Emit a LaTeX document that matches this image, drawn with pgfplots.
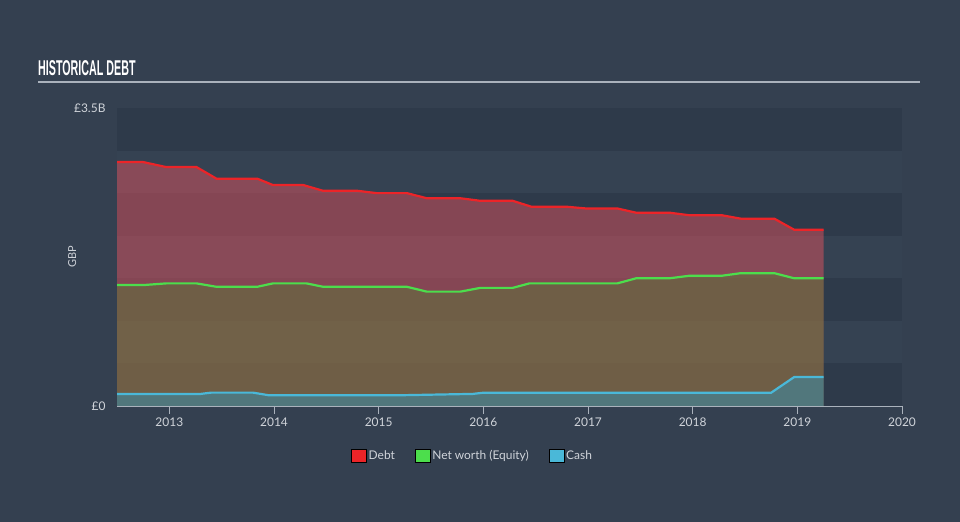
\documentclass[border=0pt]{standalone}
\usepackage{pgfplots}
\pgfplotsset{compat=1.18}
\usepackage{fontspec}
\setmainfont{Lato}
\newfontfamily\titlefont{Liberation Sans}
\definecolor{bgc}{RGB}{52,64,80}
\definecolor{banddark}{RGB}{46,58,74}
\definecolor{bandlight}{RGB}{53,66,82}
\definecolor{debtc}{RGB}{236,36,40}
\definecolor{eqc}{RGB}{76,222,76}
\definecolor{cashc}{RGB}{74,184,216}
\definecolor{debtfill}{RGB}{221,82,94}
\definecolor{eqfill}{RGB}{70,140,45}
\definecolor{cashfill}{RGB}{40,155,200}
\definecolor{txt}{RGB}{208,212,218}
\definecolor{rulec}{RGB}{170,178,188}

\begin{document}
\begin{tikzpicture}[x=1bp,y=1bp]
\fill[bgc] (0,0) rectangle (960,522);

\begin{axis}[
  scale only axis,
  width=785bp, height=298bp,
  at={(117bp,116bp)}, anchor=south west,
  xmin=2012.5, xmax=2020, ymin=0, ymax=3.5,
  axis x line*=bottom, axis y line*=left,
  y axis line style={draw=none},
  x axis line style={draw=rulec, line width=1.2bp},
  xtick={2013,2014,2015,2016,2017,2018,2019,2020},
  xticklabels={2013,2014,2015,2016,2017,2018,2019,2020},
  xtick style={draw=rulec, line width=1bp},
  xtick align=outside,
  major tick length=8bp,
  ytick={0,3.5},
  yticklabels={£0,£3.5B},
  ytick style={draw=none},
  tick label style={font=\fontsize{12}{13}\selectfont, text=txt},
  yticklabel style={xshift=-8bp},
  ylabel={GBP},
  ylabel style={at={(axis description cs:-0.057,0.5)}, anchor=center, font=\fontsize{11}{12}\selectfont, text=txt},
  legend style={at={(0.453,-0.168)}, anchor=center, draw=none, fill=none,
    legend columns=-1, font=\fontsize{12}{13}\selectfont, text=txt,
    /tikz/every even column/.append style={column sep=18bp}},
  legend image code/.code={\fill (0bp,-6.5bp) rectangle (15bp,6.5bp);},
]
% background bands
\fill[banddark] (axis cs:2012.5,0) rectangle (axis cs:2020,0.5);
\fill[bandlight] (axis cs:2012.5,0.5) rectangle (axis cs:2020,1.0);
\fill[banddark] (axis cs:2012.5,1.0) rectangle (axis cs:2020,1.5);
\fill[bandlight] (axis cs:2012.5,1.5) rectangle (axis cs:2020,2.0);
\fill[banddark] (axis cs:2012.5,2.0) rectangle (axis cs:2020,2.5);
\fill[bandlight] (axis cs:2012.5,2.5) rectangle (axis cs:2020,3.0);
\fill[banddark] (axis cs:2012.5,3.0) rectangle (axis cs:2020,3.5);

% debt
\addplot[draw=none, fill=debtfill, fill opacity=0.5, forget plot] table {
2012.50 2.865
2012.75 2.865
2012.97 2.806
2013.26 2.806
2013.45 2.670
2013.84 2.670
2013.99 2.595
2014.28 2.595
2014.47 2.527
2014.80 2.527
2014.98 2.500
2015.27 2.500
2015.46 2.440
2015.78 2.440
2015.97 2.410
2016.28 2.410
2016.46 2.340
2016.80 2.340
2016.98 2.320
2017.28 2.320
2017.46 2.270
2017.78 2.270
2017.97 2.240
2018.28 2.240
2018.46 2.200
2018.78 2.200
2018.97 2.070
2019.25 2.070
} \closedcycle;
% equity
\addplot[draw=none, fill=eqfill, fill opacity=0.35, forget plot] table {
2012.50 1.420
2012.75 1.420
2012.97 1.440
2013.26 1.440
2013.45 1.400
2013.84 1.400
2013.99 1.440
2014.31 1.440
2014.47 1.400
2015.27 1.400
2015.46 1.343
2015.78 1.343
2015.97 1.387
2016.28 1.387
2016.44 1.440
2017.28 1.440
2017.46 1.500
2017.78 1.500
2017.97 1.530
2018.28 1.530
2018.46 1.560
2018.78 1.560
2018.97 1.500
2019.25 1.500
} \closedcycle;
% cash
\addplot[draw=none, fill=cashfill, fill opacity=0.42, forget plot] table {
2012.50 0.142
2013.30 0.142
2013.40 0.157
2013.80 0.157
2013.95 0.126
2015.20 0.126
2015.90 0.142
2016.00 0.156
2018.75 0.156
2018.97 0.340
2019.25 0.340
} \closedcycle;

\addplot[debtc, line width=2.2bp, forget plot] table {
2012.50 2.865
2012.75 2.865
2012.97 2.806
2013.26 2.806
2013.45 2.670
2013.84 2.670
2013.99 2.595
2014.28 2.595
2014.47 2.527
2014.80 2.527
2014.98 2.500
2015.27 2.500
2015.46 2.440
2015.78 2.440
2015.97 2.410
2016.28 2.410
2016.46 2.340
2016.80 2.340
2016.98 2.320
2017.28 2.320
2017.46 2.270
2017.78 2.270
2017.97 2.240
2018.28 2.240
2018.46 2.200
2018.78 2.200
2018.97 2.070
2019.25 2.070
};
\addplot[eqc, line width=2.2bp, forget plot] table {
2012.50 1.420
2012.75 1.420
2012.97 1.440
2013.26 1.440
2013.45 1.400
2013.84 1.400
2013.99 1.440
2014.31 1.440
2014.47 1.400
2015.27 1.400
2015.46 1.343
2015.78 1.343
2015.97 1.387
2016.28 1.387
2016.44 1.440
2017.28 1.440
2017.46 1.500
2017.78 1.500
2017.97 1.530
2018.28 1.530
2018.46 1.560
2018.78 1.560
2018.97 1.500
2019.25 1.500
};
\addplot[cashc, line width=2.2bp, forget plot] table {
2012.50 0.142
2013.30 0.142
2013.40 0.157
2013.80 0.157
2013.95 0.126
2015.20 0.126
2015.90 0.142
2016.00 0.156
2018.75 0.156
2018.97 0.340
2019.25 0.340
};

\addlegendimage{fill=debtc}
\addlegendentry{Debt}
\addlegendimage{fill=eqc}
\addlegendentry{Net worth (Equity)}
\addlegendimage{fill=cashc}
\addlegendentry{Cash}
\end{axis}

\node[anchor=west, inner sep=0, text=white] at (38,454)
  {\scalebox{0.5}[1]{\titlefont\bfseries\fontsize{21.5}{22}\selectfont HISTORICAL DEBT}};
\draw[rulec, line width=1.5bp] (38,440) -- (920,440);
\end{tikzpicture}
\end{document}
